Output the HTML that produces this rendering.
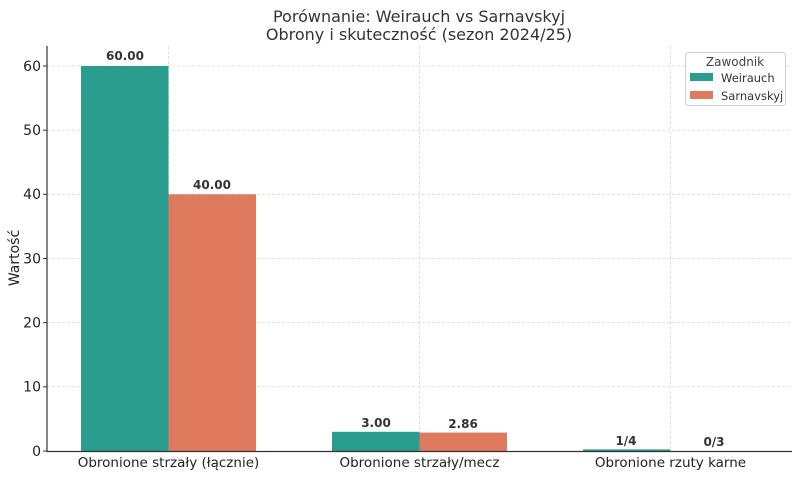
<!DOCTYPE html>
<html><head><meta charset="utf-8"><style>
html,body{margin:0;padding:0;background:#fff}
svg{display:block;font-family:"DejaVu Sans","Liberation Sans",sans-serif}
</style></head><body>
<svg width="800" height="477" viewBox="0 0 800 477" xmlns="http://www.w3.org/2000/svg">
<rect width="800" height="477" fill="#fff"/>
<text x="419" y="22" font-size="16" text-anchor="middle" fill="#333">Porównanie: Weirauch vs Sarnavskyj</text>
<text x="419" y="40" font-size="16" text-anchor="middle" fill="#333">Obrony i skuteczność (sezon 2024/25)</text>
<g stroke="#d9d9d9" stroke-width="0.8" stroke-dasharray="3,2">
<line x1="47" x2="792" y1="66" y2="66"/>
<line x1="47" x2="792" y1="130.2" y2="130.2"/>
<line x1="47" x2="792" y1="194.3" y2="194.3"/>
<line x1="47" x2="792" y1="258.5" y2="258.5"/>
<line x1="47" x2="792" y1="322.7" y2="322.7"/>
<line x1="47" x2="792" y1="386.8" y2="386.8"/>
<line x1="168.5" x2="168.5" y1="46" y2="451"/>
<line x1="419.5" x2="419.5" y1="46" y2="451"/>
<line x1="670.5" x2="670.5" y1="46" y2="451"/>
</g>
<g fill="#2a9d8f">
<rect x="81" y="66" width="87.5" height="385"/>
<rect x="332" y="431.8" width="87.5" height="19.2"/>
<rect x="583" y="449.4" width="87.5" height="1.6"/>
</g>
<g fill="#e07a5f">
<rect x="168.5" y="194.3" width="87.5" height="256.7"/>
<rect x="419.5" y="432.6" width="87.5" height="18.4"/>
</g>
<g font-size="12" font-weight="bold" fill="#333" text-anchor="middle">
<text x="125" y="60">60.00</text>
<text x="212" y="189">40.00</text>
<text x="376" y="427">3.00</text>
<text x="463" y="428">2.86</text>
<text x="626" y="445">1/4</text>
<text x="714" y="446">0/3</text>
</g>
<line x1="47" y1="46" x2="47" y2="451.5" stroke="#333" stroke-width="1.2"/>
<line x1="46.5" y1="451.5" x2="792" y2="451.5" stroke="#333" stroke-width="1.2"/>
<g stroke="#333" stroke-width="1">
<line x1="43" x2="47" y1="66" y2="66"/><line x1="43" x2="47" y1="130.2" y2="130.2"/>
<line x1="43" x2="47" y1="194.3" y2="194.3"/><line x1="43" x2="47" y1="258.5" y2="258.5"/>
<line x1="43" x2="47" y1="322.7" y2="322.7"/><line x1="43" x2="47" y1="386.8" y2="386.8"/>
<line x1="43" x2="47" y1="451" y2="451"/>
</g>
<g font-size="14" fill="#222" text-anchor="end">
<text x="41" y="71">60</text><text x="41" y="135">50</text><text x="41" y="199">40</text>
<text x="41" y="263.5">30</text><text x="41" y="327.5">20</text><text x="41" y="391.5">10</text>
<text x="41" y="456">0</text>
</g>
<g font-size="13.5" fill="#222" text-anchor="middle">
<text x="168.5" y="467">Obronione strzały (łącznie)</text>
<text x="419.5" y="467">Obronione strzały/mecz</text>
<text x="670.5" y="467">Obronione rzuty karne</text>
</g>
<text transform="translate(19,258) rotate(-90)" font-size="14" fill="#222" text-anchor="middle">Wartość</text>
<rect x="685.5" y="52.5" width="100" height="53" rx="3" fill="#fff" stroke="#ccc" stroke-width="1" opacity="0.9"/>
<text x="735" y="66" font-size="12" fill="#444" text-anchor="middle">Zawodnik</text>
<rect x="690" y="73" width="23" height="8" fill="#2a9d8f"/>
<text x="721" y="82" font-size="11.5" fill="#333">Weirauch</text>
<rect x="690" y="91" width="23" height="8" fill="#e07a5f"/>
<text x="721" y="100" font-size="11.5" fill="#333">Sarnavskyj</text>
</svg>
</body></html>
